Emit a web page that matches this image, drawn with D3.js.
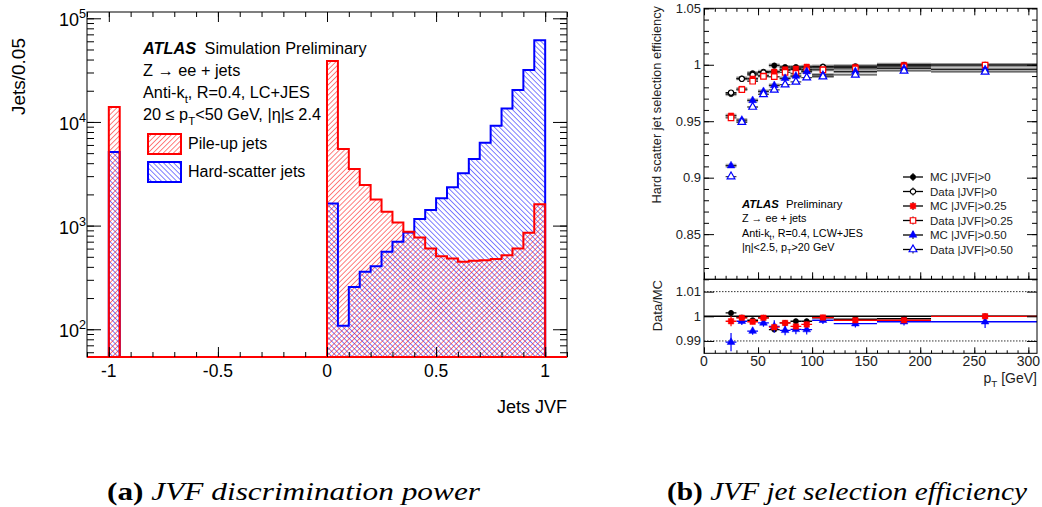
<!DOCTYPE html>
<html><head><meta charset="utf-8">
<script src="https://cdn.jsdelivr.net/npm/d3@7"></script>
<style>body{margin:0;background:#fff} svg{display:block}</style>
</head><body><svg id="c" width="1042" height="507"></svg>
<script>
// ---------------- data: left panel (JVF histogram) ----------------
const jvfBinLow = [-1.00, 0.00, 0.05, 0.10, 0.15, 0.20, 0.25, 0.30, 0.35, 0.40, 0.45, 0.50, 0.55, 0.60, 0.65, 0.70, 0.75, 0.80, 0.85, 0.90, 0.95];
const jvfBinWidth = 0.05;
const pileUpJets = [13960, 38800, 5490, 3515, 2463, 1790, 1359, 1074, 871, 769, 603, 507, 482, 447, 457, 464, 475, 519, 603, 852, 1603];
const hardScatterJets = [5130, 1638, 108, 256, 358, 406, 558, 697, 859, 1156, 1412, 1832, 2339, 3194, 4393, 6310, 9206, 13460, 20380, 31770, 61540];
const jvfTickValues = [-1, -0.5, 0, 0.5, 1];
const jvfTickLabels = ["-1", "-0.5", "0", "0.5", "1"];
const countTickValues = [1e2, 1e3, 1e4, 1e5];
const countTickExp = ["2", "3", "4", "5"];

// ---------------- data: right panel (efficiency) ----------------
const ptLow = [20, 30, 40, 50, 60, 70, 80, 90, 100, 120, 160, 210];
const ptHigh = [30, 40, 50, 60, 70, 80, 90, 100, 120, 160, 210, 310];
const ptCenter = [25, 35, 45, 55, 65, 75, 85, 95, 110, 140, 185, 260];
const effMC0 = [0.9740, 0.9880, 0.9926, 0.9938, 0.9994, 0.9980, 0.9980, 0.9980, 0.9985, 0.9988, 1.0000, 0.9997];
const effData0 = [0.9753, 0.9875, 0.9910, 0.9932, 0.9940, 0.9953, 0.9960, 0.9960, 0.9979, 0.9976, 0.9990, 0.9997];
const effMC25 = [0.9549, 0.9785, 0.9876, 0.9903, 0.9938, 0.9959, 0.9965, 0.9982, 0.9959, 0.9980, 0.9998, 0.9997];
const effData25 = [0.9530, 0.9779, 0.9854, 0.9897, 0.9894, 0.9932, 0.9924, 0.9949, 0.9954, 0.9964, 0.9982, 0.9997];
const effMC50 = [0.9106, 0.9510, 0.9684, 0.9764, 0.9817, 0.9880, 0.9900, 0.9940, 0.9910, 0.9940, 0.9968, 0.9959];
const effData50 = [0.9010, 0.9491, 0.9626, 0.9738, 0.9777, 0.9824, 0.9848, 0.9886, 0.9894, 0.9910, 0.9946, 0.9937];
const ratio0 = [1.00135, 0.9995, 0.9984, 0.9994, 0.9946, 0.9973, 0.9980, 0.9980, 0.9994, 0.9988, 0.9990, 1.0000];
const ratio25 = [0.9980, 0.9994, 0.9978, 0.9994, 0.9956, 0.9973, 0.9959, 0.9967, 0.9995, 0.9984, 0.9984, 1.0000];
const ratio50 = [0.9895, 0.9980, 0.9940, 0.9973, 0.9959, 0.9943, 0.9947, 0.9946, 0.9984, 0.9970, 0.9978, 0.9978];
const ratioErr0 = [0.0012, 0.0008, 0.0008, 0.0008, 0.0010, 0.0010, 0.0010, 0.0010, 0.0008, 0.0008, 0.0008, 0.0008];
const ratioErr25 = [0.0020, 0.0010, 0.0010, 0.0010, 0.0012, 0.0010, 0.0010, 0.0012, 0.0010, 0.0010, 0.0010, 0.0010];
const ratioErr50 = [0.0037, 0.0015, 0.0015, 0.0015, 0.0025, 0.0020, 0.0020, 0.0020, 0.0015, 0.0015, 0.0015, 0.0025];
const effTicks = [0.85, 0.9, 0.95, 1, 1.05];
const ratioTicks = [0.99, 1, 1.01];
const ptTicks = [0, 50, 100, 150, 200, 250, 300];

const svg = d3.select("#c");
const SANS = "'Liberation Sans', Arial, Helvetica, sans-serif";
const SERIF = "'Liberation Serif', 'DejaVu Serif', serif";

// rich text helper
function rich(g, x, y, parts, size, anchor) {
  const t = g.append("text").attr("x", x).attr("y", y).attr("font-family", SANS)
    .attr("font-size", size).attr("text-anchor", anchor || "start").attr("fill", "#000");
  parts.forEach(p => {
    const s = t.append("tspan").text(p.t);
    if (p.bold) s.attr("font-weight", "bold");
    if (p.italic) s.attr("font-style", "italic");
    if (p.sub) s.attr("font-size", size * 0.7).attr("dy", size * 0.3);
    if (p.sup) s.attr("font-size", size * 0.7).attr("dy", -size * 0.45);
    if (p.back) s.attr("dy", p.back * size);
    if (p.dx) s.attr("dx", p.dx);
  });
  return t;
}

const defs = svg.append("defs");
defs.append("pattern").attr("id", "hatchR").attr("patternUnits", "userSpaceOnUse")
  .attr("width", 3.6).attr("height", 3.6).attr("patternTransform", "rotate(45)")
  .append("line").attr("x1", 0).attr("y1", 0).attr("x2", 0).attr("y2", 3.6)
  .attr("stroke", "#ff0000").attr("stroke-width", 1);
defs.append("pattern").attr("id", "hatchB").attr("patternUnits", "userSpaceOnUse")
  .attr("width", 3.6).attr("height", 3.6).attr("patternTransform", "rotate(-45)")
  .append("line").attr("x1", 0).attr("y1", 0).attr("x2", 0).attr("y2", 3.6)
  .attr("stroke", "#0000ff").attr("stroke-width", 1);

// ================= LEFT PANEL =================
const L = {x0: 87, x1: 567, y0: 12, y1: 357};
const xL = d3.scaleLinear().domain([-1.1, 1.1]).range([L.x0, L.x1]);
const yL = d3.scaleLog().domain([54, 115000]).range([L.y1, L.y0]);
const gl = svg.append("g");

function histPath(vals) {
  let d = "";
  let prevHigh = null;
  jvfBinLow.forEach((lo, i) => {
    const hi = lo + jvfBinWidth;
    const contiguous = prevHigh !== null && Math.abs(prevHigh - lo) < 1e-9;
    if (!contiguous) {
      if (prevHigh !== null) d += `L${xL(prevHigh)},${L.y1}`;
      d += `M${xL(lo)},${L.y1}`;
    }
    d += `L${xL(lo)},${yL(vals[i])}L${xL(hi)},${yL(vals[i])}`;
    prevHigh = hi;
  });
  d += `L${xL(prevHigh)},${L.y1}`;
  return d;
}
gl.append("path").attr("d", histPath(hardScatterJets) + "Z").attr("fill", "url(#hatchB)");
gl.append("path").attr("d", histPath(pileUpJets) + "Z").attr("fill", "url(#hatchR)");
gl.append("path").attr("d", histPath(hardScatterJets)).attr("fill", "none").attr("stroke", "#0000ff").attr("stroke-width", 2);
gl.append("path").attr("d", histPath(pileUpJets)).attr("fill", "none").attr("stroke", "#ff0000").attr("stroke-width", 2);

gl.append("rect").attr("x", L.x0).attr("y", L.y0).attr("width", L.x1 - L.x0).attr("height", L.y1 - L.y0)
  .attr("fill", "none").attr("stroke", "#000").attr("stroke-width", 1);
gl.append("line").attr("x1", L.x0).attr("x2", L.x1).attr("y1", L.y1).attr("y2", L.y1)
  .attr("stroke", "#ff0000").attr("stroke-width", 2);

function styleAxis(g) { g.select(".domain").remove(); g.selectAll("line").attr("stroke", "#000"); g.selectAll("text").remove(); }
const minorX = d3.range(-11, 12).map(v => v / 10);
gl.append("g").attr("transform", `translate(0,${L.y1})`).call(d3.axisBottom(xL).tickValues(minorX).tickSize(-5)).call(styleAxis);
gl.append("g").attr("transform", `translate(0,${L.y1})`).call(d3.axisBottom(xL).tickValues(jvfTickValues).tickSize(-10)).call(styleAxis);
gl.append("g").attr("transform", `translate(0,${L.y0})`).call(d3.axisTop(xL).tickValues(minorX).tickSize(-5)).call(styleAxis);
gl.append("g").attr("transform", `translate(0,${L.y0})`).call(d3.axisTop(xL).tickValues(jvfTickValues).tickSize(-10)).call(styleAxis);
const minorY = yL.ticks(40).filter(v => v >= 54 && v <= 115000);
gl.append("g").attr("transform", `translate(${L.x0},0)`).call(d3.axisLeft(yL).tickValues(minorY).tickSize(-7)).call(styleAxis);
gl.append("g").attr("transform", `translate(${L.x0},0)`).call(d3.axisLeft(yL).tickValues(countTickValues).tickSize(-14)).call(styleAxis);
gl.append("g").attr("transform", `translate(${L.x1},0)`).call(d3.axisRight(yL).tickValues(minorY).tickSize(-7)).call(styleAxis);
gl.append("g").attr("transform", `translate(${L.x1},0)`).call(d3.axisRight(yL).tickValues(countTickValues).tickSize(-14)).call(styleAxis);

jvfTickValues.forEach((v, i) => {
  gl.append("text").attr("x", xL(v)).attr("y", 377).attr("text-anchor", "middle")
    .attr("font-family", SANS).attr("font-size", 17.5).text(jvfTickLabels[i]);
});
countTickValues.forEach((v, i) => {
  rich(gl, 86, yL(v) + 8, [{t: "10"}, {t: countTickExp[i], sup: true}], 18, "end");
});
gl.append("text").attr("transform", "translate(25,38) rotate(-90)").attr("text-anchor", "end")
  .attr("font-family", SANS).attr("font-size", 19).text("Jets/0.05");
gl.append("text").attr("x", 567).attr("y", 413).attr("text-anchor", "end")
  .attr("font-family", SANS).attr("font-size", 18).text("Jets JVF");

const TS = 16.3;
rich(gl, 143, 54, [{t: "ATLAS", bold: true, italic: true}, {t: " Simulation Preliminary", dx: 4}], TS);
rich(gl, 143, 76, [{t: "Z \u2192 ee + jets"}], TS);
rich(gl, 143, 98, [{t: "Anti-k"}, {t: "t", sub: true}, {t: ", R=0.4, LC+JES", back: -0.3}], TS);
rich(gl, 143, 120, [{t: "20 \u2264 p"}, {t: "T", sub: true}, {t: "<50 GeV, |\u03b7|\u2264 2.4", back: -0.3}], TS);
gl.append("rect").attr("x", 148).attr("y", 134).attr("width", 33).attr("height", 20)
  .attr("fill", "url(#hatchR)").attr("stroke", "#ff0000").attr("stroke-width", 2);
gl.append("text").attr("x", 188).attr("y", 149).attr("font-family", SANS).attr("font-size", 16).text("Pile-up jets");
gl.append("rect").attr("x", 148).attr("y", 162).attr("width", 33).attr("height", 20)
  .attr("fill", "url(#hatchB)").attr("stroke", "#0000ff").attr("stroke-width", 2);
gl.append("text").attr("x", 188).attr("y", 177).attr("font-family", SANS).attr("font-size", 16).text("Hard-scatter jets");

// ================= RIGHT PANEL =================
const R = {x0: 704, x1: 1037, yu0: 8.3, yu1: 279.3, yd1: 353.3};
const xR = d3.scaleLinear().domain([0, 308]).range([R.x0, R.x1]);
const yU = d3.scaleLinear().domain([0.81, 1.05]).range([R.yu1, R.yu0]);
const yD = d3.scaleLinear().domain([0.985, 1.015]).range([R.yd1, R.yu1]);
const gr = svg.append("g");
defs.append("clipPath").attr("id", "clipU").append("rect").attr("x", R.x0).attr("y", R.yu0).attr("width", R.x1 - R.x0).attr("height", R.yu1 - R.yu0);
defs.append("clipPath").attr("id", "clipD").append("rect").attr("x", R.x0).attr("y", R.yu1).attr("width", R.x1 - R.x0).attr("height", R.yd1 - R.yu1);

gr.selectAll(".dotl").data([1.01, 0.99]).enter().append("line")
  .attr("x1", R.x0).attr("x2", R.x1).attr("y1", d => yD(d)).attr("y2", d => yD(d))
  .attr("stroke", "#333").attr("stroke-width", 1).attr("stroke-dasharray", "1.5,1.5");
gr.append("line").attr("x1", R.x0).attr("x2", R.x1).attr("y1", yD(1)).attr("y2", yD(1))
  .attr("stroke", "#000").attr("stroke-width", 1.5);

const sym = {
  circle: d3.symbol().type(d3.symbolCircle).size(22),
  square: d3.symbol().type(d3.symbolSquare).size(30),
  triangle: d3.symbol().type(d3.symbolTriangle).size(26)
};

function drawSeries(g, yS, vals, errs, color, shape, open, barColor, clip) {
  const gg = g.append("g").attr("clip-path", `url(#${clip})`);
  vals.forEach((v, i) => {
    gg.append("line").attr("x1", xR(ptLow[i])).attr("x2", xR(ptHigh[i])).attr("y1", yS(v)).attr("y2", yS(v))
      .attr("stroke", barColor).attr("stroke-width", 1.3);
    const e = errs ? errs[i] : 0.0012;
    gg.append("line").attr("x1", xR(ptCenter[i])).attr("x2", xR(ptCenter[i]))
      .attr("y1", yS(v - e)).attr("y2", yS(v + e)).attr("stroke", color).attr("stroke-width", 1.2);
  });
  vals.forEach((v, i) => {
    gg.append("path").attr("d", sym[shape]()).attr("transform", `translate(${xR(ptCenter[i])},${yS(v)})`)
      .attr("fill", open ? "#fff" : color).attr("stroke", color).attr("stroke-width", open ? 1.2 : 0.5);
  });
}
[effMC0, effMC25, effMC50].forEach(arr => {
  const gg = gr.append("g").attr("clip-path", "url(#clipU)");
  arr.forEach((v, i) => {
    gg.append("rect").attr("x", xR(ptLow[i])).attr("width", xR(ptHigh[i]) - xR(ptLow[i]))
      .attr("y", yU(v) - 2).attr("height", 4).attr("fill", "#888").attr("opacity", 0.7);
  });
});
drawSeries(gr, yU, effMC0, null, "#000", "circle", false, "#111", "clipU");
drawSeries(gr, yU, effData0, null, "#000", "circle", true, "#111", "clipU");
drawSeries(gr, yU, effMC25, null, "#ff0000", "square", false, "#222", "clipU");
drawSeries(gr, yU, effData25, null, "#ff0000", "square", true, "#444", "clipU");
drawSeries(gr, yU, effMC50, null, "#0000ff", "triangle", false, "#222", "clipU");
drawSeries(gr, yU, effData50, null, "#0000ff", "triangle", true, "#444", "clipU");
drawSeries(gr, yD, ratio0, ratioErr0, "#000", "circle", false, "#000", "clipD");
drawSeries(gr, yD, ratio50, ratioErr50, "#0000ff", "triangle", false, "#0000ff", "clipD");
drawSeries(gr, yD, ratio25, ratioErr25, "#ff0000", "square", false, "#ff0000", "clipD");

gr.append("rect").attr("x", R.x0).attr("y", R.yu0).attr("width", R.x1 - R.x0).attr("height", R.yu1 - R.yu0)
  .attr("fill", "none").attr("stroke", "#000");
gr.append("rect").attr("x", R.x0).attr("y", R.yu1).attr("width", R.x1 - R.x0).attr("height", R.yd1 - R.yu1)
  .attr("fill", "none").attr("stroke", "#000");

const minorPt = d3.range(0, 310, 10);
const minorEff = d3.range(81, 106).map(v => v / 100);
gr.append("g").attr("transform", `translate(0,${R.yu0})`).call(d3.axisTop(xR).tickValues(minorPt).tickSize(-3.5)).call(styleAxis);
gr.append("g").attr("transform", `translate(0,${R.yu0})`).call(d3.axisTop(xR).tickValues(ptTicks).tickSize(-7)).call(styleAxis);
gr.append("g").attr("transform", `translate(0,${R.yu1})`).call(d3.axisBottom(xR).tickValues(minorPt).tickSize(-3.5)).call(styleAxis);
gr.append("g").attr("transform", `translate(0,${R.yu1})`).call(d3.axisBottom(xR).tickValues(ptTicks).tickSize(-7)).call(styleAxis);
gr.append("g").attr("transform", `translate(0,${R.yd1})`).call(d3.axisBottom(xR).tickValues(minorPt).tickSize(-3)).call(styleAxis);
gr.append("g").attr("transform", `translate(0,${R.yd1})`).call(d3.axisBottom(xR).tickValues(ptTicks).tickSize(-6)).call(styleAxis);
gr.append("g").attr("transform", `translate(${R.x0},0)`).call(d3.axisLeft(yU).tickValues(minorEff).tickSize(-5)).call(styleAxis);
gr.append("g").attr("transform", `translate(${R.x0},0)`).call(d3.axisLeft(yU).tickValues(effTicks).tickSize(-10)).call(styleAxis);
gr.append("g").attr("transform", `translate(${R.x1},0)`).call(d3.axisRight(yU).tickValues(minorEff).tickSize(-5)).call(styleAxis);
gr.append("g").attr("transform", `translate(${R.x1},0)`).call(d3.axisRight(yU).tickValues(effTicks).tickSize(-10)).call(styleAxis);
gr.append("g").attr("transform", `translate(${R.x0},0)`).call(d3.axisLeft(yD).tickValues(ratioTicks).tickSize(-10)).call(styleAxis);
gr.append("g").attr("transform", `translate(${R.x1},0)`).call(d3.axisRight(yD).tickValues(ratioTicks).tickSize(-10)).call(styleAxis);

const fmt = d3.format("~g");
effTicks.forEach(v => gr.append("text").attr("x", 701).attr("y", yU(v) + 4.5).attr("text-anchor", "end")
  .attr("font-family", SANS).attr("font-size", 13).attr("fill", "#222").text(fmt(v)));
ratioTicks.forEach(v => gr.append("text").attr("x", 701).attr("y", yD(v) + 4.5).attr("text-anchor", "end")
  .attr("font-family", SANS).attr("font-size", 13).attr("fill", "#222").text(fmt(v)));
ptTicks.forEach(v => gr.append("text").attr("x", xR(v)).attr("y", 366).attr("text-anchor", "middle")
  .attr("font-family", SANS).attr("font-size", 14).attr("fill", "#222").text(v));
gr.append("text").attr("transform", "translate(661,6) rotate(-90)").attr("text-anchor", "end")
  .attr("font-family", SANS).attr("font-size", 12.8).attr("fill", "#222").text("Hard scatter jet selection efficiency");
gr.append("text").attr("transform", "translate(662,280) rotate(-90)").attr("text-anchor", "end")
  .attr("font-family", SANS).attr("font-size", 13).attr("fill", "#222").text("Data/MC");
rich(gr, 1037, 383, [{t: "p"}, {t: "T", sub: true}, {t: " [GeV]", back: -0.3}], 14, "end").attr("fill", "#222");

rich(gr, 742, 208, [{t: "ATLAS", bold: true, italic: true}, {t: " Preliminary", dx: 4}], 11.3);
rich(gr, 742, 222, [{t: "Z \u2192 ee + jets"}], 10.8);
rich(gr, 742, 237, [{t: "Anti-k"}, {t: "t", sub: true}, {t: ", R=0.4, LCW+JES", back: -0.3}], 10.8);
rich(gr, 742, 251, [{t: "|\u03b7|<2.5, p"}, {t: "T", sub: true}, {t: ">20 GeV", back: -0.3}], 10.8);

const legendItems = [
  {label: "MC |JVF|>0", color: "#000", shape: "circle", open: false},
  {label: "Data |JVF|>0", color: "#000", shape: "circle", open: true},
  {label: "MC |JVF|>0.25", color: "#ff0000", shape: "square", open: false},
  {label: "Data |JVF|>0.25", color: "#ff0000", shape: "square", open: true},
  {label: "MC |JVF|>0.50", color: "#0000ff", shape: "triangle", open: false},
  {label: "Data |JVF|>0.50", color: "#0000ff", shape: "triangle", open: true}
];
legendItems.forEach((it, i) => {
  const cy = 177 + i * 14.5;
  gr.append("line").attr("x1", 903).attr("x2", 923).attr("y1", cy).attr("y2", cy).attr("stroke", "#000").attr("stroke-width", 1.3);
  gr.append("line").attr("x1", 913).attr("x2", 913).attr("y1", cy - 4).attr("y2", cy + 4).attr("stroke", "#000").attr("stroke-width", 1);
  gr.append("path").attr("d", sym[it.shape]()).attr("transform", `translate(913,${cy})`)
    .attr("fill", it.open ? "#fff" : it.color).attr("stroke", it.color).attr("stroke-width", it.open ? 1.2 : 0.5);
  gr.append("text").attr("x", 930).attr("y", cy + 4).attr("font-family", SANS).attr("font-size", 11.5).attr("fill", "#222").text(it.label);
});

// ================= CAPTIONS =================
function caption(x, width, tag, text) {
  const t = svg.append("text").attr("x", x).attr("y", 500)
    .attr("font-family", SERIF).attr("font-size", 25)
    .attr("textLength", width).attr("lengthAdjust", "spacingAndGlyphs");
  t.append("tspan").attr("font-weight", "bold").text(tag);
  t.append("tspan").attr("font-style", "italic").text(" " + text);
}
caption(107, 373, "(a)", "JVF discrimination power");
caption(667, 360, "(b)", "JVF jet selection efficiency");
</script></body></html>
